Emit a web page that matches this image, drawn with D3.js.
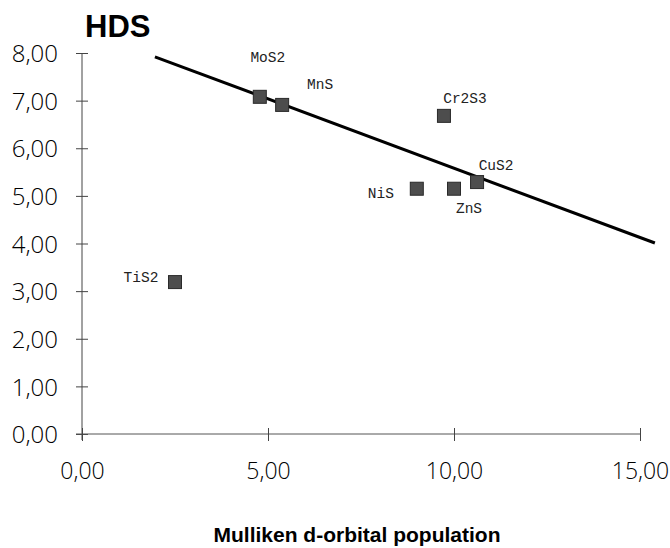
<!DOCTYPE html>
<html>
<head>
<meta charset="utf-8">
<script src="https://cdn.jsdelivr.net/npm/d3@7"></script>
<style>
  body { margin: 0; background: #fff; }
  .tick text { font-family: "Open Sans", sans-serif; font-weight: 300; }
</style>
</head>
<body>
<div id="chart"></div>
<script>
var names = ["MoS2", "MnS", "Cr2S3", "NiS", "ZnS", "CuS2", "TiS2"];
var dPop = [4.78, 5.38, 9.73, 9.0, 10.0, 10.62, 2.5];
var hds = [7.08, 6.91, 6.68, 5.15, 5.15, 5.29, 3.19];
var fitX = [1.96, 15.4];
var fitY = [7.92, 4.01];
var xTicks = [0, 5, 10, 15];
var yTicks = [0, 1, 2, 3, 4, 5, 6, 7, 8];

// label offsets from the marker (dx, dy) in px
var labelOff = [[8, -40], [38, -21], [21, -18], [-36, 4], [15, 19], [19, -17], [-34, -5]];

var width = 670, height = 548;
var x = d3.scaleLinear().domain([0, 15]).range([82, 640]);
var y = d3.scaleLinear().domain([0, 8]).range([434, 53]);

var svg = d3.select("#chart")
  .append("svg")
    .attr("width", width)
    .attr("height", height);

var fmt = function(d) { return d3.format(".2f")(d).replace(".", ","); };

// y axis
var yAxis = svg.append("g")
  .attr("transform", "translate(82,0)")
  .call(d3.axisLeft(y).tickValues(yTicks).tickFormat(fmt).tickSize(6).tickPadding(18));
yAxis.select(".domain").attr("d", "M0," + y(8) + "V" + (y(0) + 6)).attr("stroke", "#444");
yAxis.selectAll(".tick line").attr("x1", 6).attr("x2", -6).attr("stroke", "#444");
yAxis.selectAll(".tick text").attr("font-size", 24).attr("fill", "#000").attr("dy", "0.36em");

// x axis
var xAxis = svg.append("g")
  .attr("transform", "translate(0," + y(0) + ")")
  .call(d3.axisBottom(x).tickValues(xTicks).tickFormat(fmt).tickSize(7).tickPadding(22));
xAxis.select(".domain").attr("d", "M" + (x(0) - 6) + ",0H" + x(15)).attr("stroke", "#555");
xAxis.selectAll(".tick line").attr("y1", -6).attr("y2", 7).attr("stroke", "#444");
xAxis.selectAll(".tick text").attr("font-size", 23).attr("fill", "#000");
svg.selectAll(".domain").attr("stroke-width", 1);

// regression line
svg.append("line")
  .attr("x1", x(fitX[0])).attr("y1", y(fitY[0]))
  .attr("x2", x(fitX[1])).attr("y2", y(fitY[1]))
  .attr("stroke", "#000")
  .attr("stroke-width", 3);

// markers
var s = 13;
svg.selectAll("rect.pt")
  .data(names)
  .enter()
  .append("rect")
    .attr("class", "pt")
    .attr("x", function(d, i) { return x(dPop[i]) - s / 2; })
    .attr("y", function(d, i) { return y(hds[i]) - s / 2; })
    .attr("width", s)
    .attr("height", s)
    .attr("fill", "#4d4d4d")
    .attr("stroke", "#2a2a2a")
    .attr("stroke-width", 1);

svg.selectAll("text.lbl")
  .data(names)
  .enter()
  .append("text")
    .attr("class", "lbl")
    .attr("x", function(d, i) { return x(dPop[i]) + labelOff[i][0]; })
    .attr("y", function(d, i) { return y(hds[i]) + labelOff[i][1]; })
    .attr("text-anchor", "middle")
    .attr("dy", "0.35em")
    .attr("font-family", "Liberation Mono, monospace")
    .attr("font-size", 14.5)
    .attr("fill", "#222")
    .text(function(d) { return d; });

// titles
svg.append("text")
  .attr("x", 85).attr("y", 37)
  .attr("font-family", "Liberation Sans, Arial, sans-serif")
  .attr("font-weight", "bold")
  .attr("font-size", 31)
  .text("HDS");

svg.append("text")
  .attr("x", 357).attr("y", 542)
  .attr("text-anchor", "middle")
  .attr("font-family", "Liberation Sans, Arial, sans-serif")
  .attr("font-weight", "bold")
  .attr("font-size", 21)
  .text("Mulliken d-orbital population");
</script>
</body>
</html>
